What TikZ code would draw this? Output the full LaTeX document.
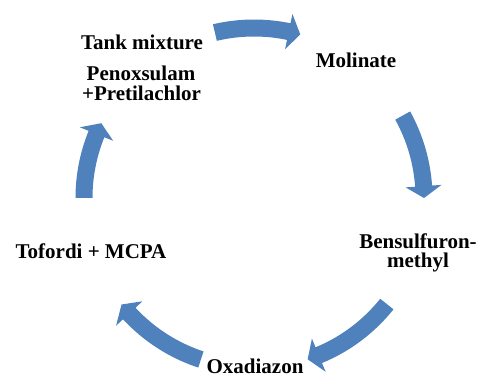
\documentclass[tikz,border=0pt]{standalone}
\usepackage{fontspec}
\setmainfont{Liberation Serif}
\definecolor{cycleblue}{HTML}{4F81BD}
\tikzset{
  lbl/.style={anchor=base, inner sep=0pt, font=\fontsize{21}{20}\selectfont\bfseries, text=black},
}
% #1 tail angle, #2 tip angle (clockwise, #2 < #1)
\newcommand{\cyclearrow}[2]{%
  \pgfmathsetmacro{\hb}{#2+4}%
  \fill[cycleblue] (#1:161.5pt) arc[start angle=#1, end angle=\hb, radius=161.5pt]
    -- (\hb:152pt) -- (#2:170pt) -- (\hb:188pt) -- (\hb:178.5pt)
    arc[start angle=\hb, end angle=#1, radius=178.5pt] -- cycle;}
\begin{document}
\begin{tikzpicture}[x=1pt,y=1pt]
\useasboundingbox (-254,-179) rectangle (227,198);
% labels
\node[lbl] (tank1) at (-112,148) {Tank mixture};
\node[lbl] (tank2) at (-113,117) {Penoxsulam};
\node[lbl] (tank3) at (-112.5,97) {+Pretilachlor};
\node[lbl] (mol) at (102,130) {Molinate};
\node[lbl] (ben1) at (164,-50) {Bensulfuron-};
\node[lbl] (ben2) at (164,-69) {methyl};
\node[lbl] (oxa) at (1,-175) {Oxadiazon};
\node[lbl] (tof) at (-163,-60) {Tofordi + MCPA};
% arrows
\cyclearrow{103.3}{74.2}
\cyclearrow{29}{0}
\cyclearrow{-38.6}{-71.6}
\cyclearrow{-108.2}{-141.2}
\cyclearrow{180}{153.9}
\end{tikzpicture}
\end{document}
